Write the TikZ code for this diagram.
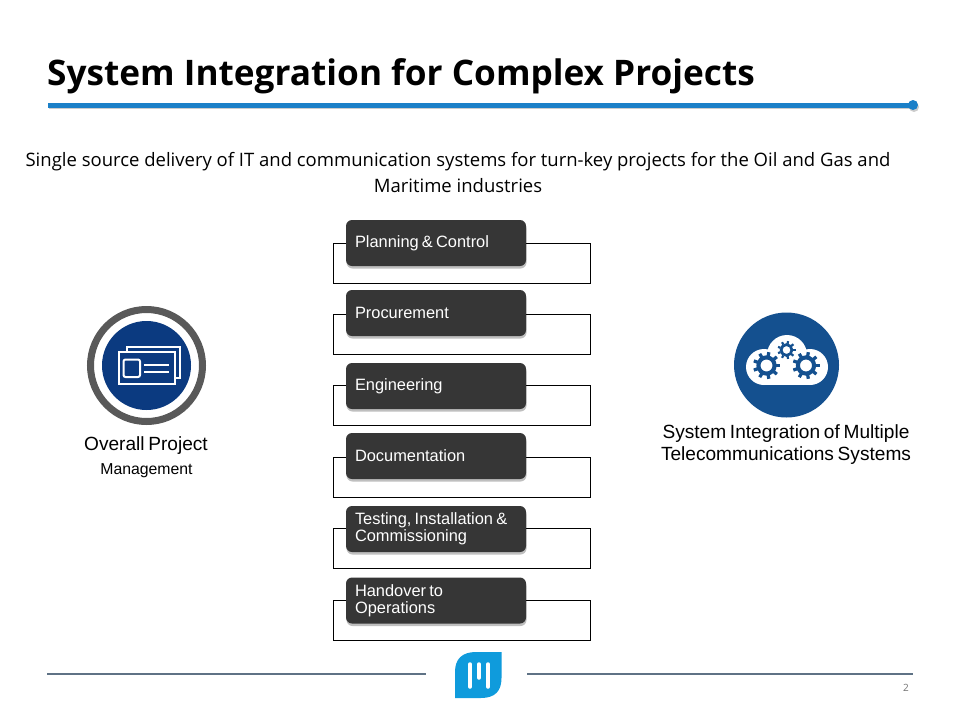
\documentclass[tikz,border=0pt]{standalone}
\usepackage{fontspec}
\setmainfont[WordSpace=0.7]{Liberation Sans}
\newfontfamily\headfont{Open Sans}
\usetikzlibrary{calc,shadows}
\definecolor{rulblue}{HTML}{1B80C8}
\definecolor{logoblue}{HTML}{0F9BDC}
\definecolor{navy}{HTML}{0B3A80}
\definecolor{cloudblue}{HTML}{14508F}
\definecolor{slate}{HTML}{5F7285}
\definecolor{darkbox}{HTML}{363636}
\tikzset{
    framebox/.style={draw=black,line width=1pt,minimum width=257pt,minimum height=40pt,inner sep=0pt},
    stepbox/.style={fill=darkbox,rounded corners=6pt,text=white,font=\fontsize{16.4}{17}\selectfont,
        minimum width=180pt,minimum height=46pt,text width=162pt,inner sep=0pt,align=flush left,
        drop shadow={shadow xshift=0.5pt,shadow yshift=-2.5pt,opacity=.25,fill=black}},
    iconlabel/.style={align=center,font=\fontsize{19.1}{22}\selectfont,inner sep=0pt},
}
\newcommand{\gearicon}[3]{ % x, y, straal
    \draw[cloudblue,line width=#3*0.3pt] (#1,#2) circle (#3*0.6);
    \foreach \a in {0,40,...,320}
        \draw[cloudblue,line width=#3*0.24pt] ($(#1,#2)+(\a:#3*0.7)$) -- ($(#1,#2)+(\a:#3)$);
}
\begin{document}
\begin{tikzpicture}[x=1pt,y=-1pt]
    \useasboundingbox (0,0) rectangle (960,720);
    \fill[white] (0,0) rectangle (960,720);

    \node[anchor=base west,inner sep=0pt,font=\headfont\bfseries\fontsize{35.2}{38}\selectfont] (title) at (47,85) {System Integration for Complex Projects};
    \fill[black!20] (49,107) rectangle (914,109);
    \fill[black!20] (914,107) circle (5);
    \draw[rulblue,line width=5pt] (48,105) -- (913,105);
    \fill[rulblue] (913,105) circle (5);

    \node[align=center,inner sep=0pt,font=\headfont\fontsize{18.5}{25.5}\selectfont] (intro) at (458,172.5) {Single source delivery of IT and communication systems for turn-key projects for the Oil and Gas and\\Maritime industries};

    % lijst in het midden
    \foreach \nm/\yy/\yf/\txt in {a/220/243/Planning \& Control,b/290/314/Procurement,c/363/385.5/Engineering,d/433/457/Documentation,e/506/528.5/{Testing, Installation \&\\Commissioning},f/577.5/600/{Handover to\\Operations}}{
        \node[framebox] (frame\nm) at (461.5,\yf+20) {};
        \node[stepbox] (step\nm) at (436,\yy+23) {\txt};
    }

    % links
    \draw[black!65,line width=7pt] (146.5,365.5) circle (56);
    \fill[navy] (146.5,365.5) circle (44.5);
    \draw[white,line width=2pt] (118.5,351.5) rectangle (175,383.5);
    \draw[white,line width=2pt] (126.5,351.5) -- (126.5,347) -- (179.5,347) -- (179.5,378) -- (175,378);
    \draw[white,line width=2pt,rounded corners=2pt] (123.5,359.5) rectangle (140,377);
    \draw[white,line width=2pt] (144,365) -- (168.5,365) (144,372) -- (168.5,372);
    \node[iconlabel] (overall) at (146,446) {Overall Project};
    \node[inner sep=0pt,font=\fontsize{15.8}{16}\selectfont] (mgmt) at (146.5,470.5) {Management};

    % rechts
    \fill[cloudblue] (786.5,365) circle (52.5);
    \fill[white] (763,367) rectangle (811,385);
    \fill[white] (764,367) circle (18) (810,367) circle (18) (787,355) circle (20);
    \gearicon{766.5}{365.5}{13.5}
    \gearicon{806}{365.5}{13.5}
    \gearicon{786.5}{350}{9}
    \node[iconlabel] (sysint) at (786,444.5) {System Integration of Multiple\\Telecommunications Systems};

    % onderkant
    \draw[slate,line width=1.5pt] (47,674) -- (426,674) (527,674) -- (913,674);
    \fill[logoblue] (501.5,652) -- (476,652) .. controls (462,652) and (455,659) .. (455,672) -- (455,698) -- (481,698) .. controls (495,698) and (501.5,691) .. (501.5,678) -- cycle;
    \draw[white,line width=3.5pt,line cap=round] (470,664) -- (470,687) (488,664) -- (488,687) (479,664) -- (479,678);
    \node[inner sep=0pt,text=black!55,font=\headfont\fontsize{10}{10}\selectfont] (pagenr) at (906,688) {2};
\end{tikzpicture}
\end{document}
